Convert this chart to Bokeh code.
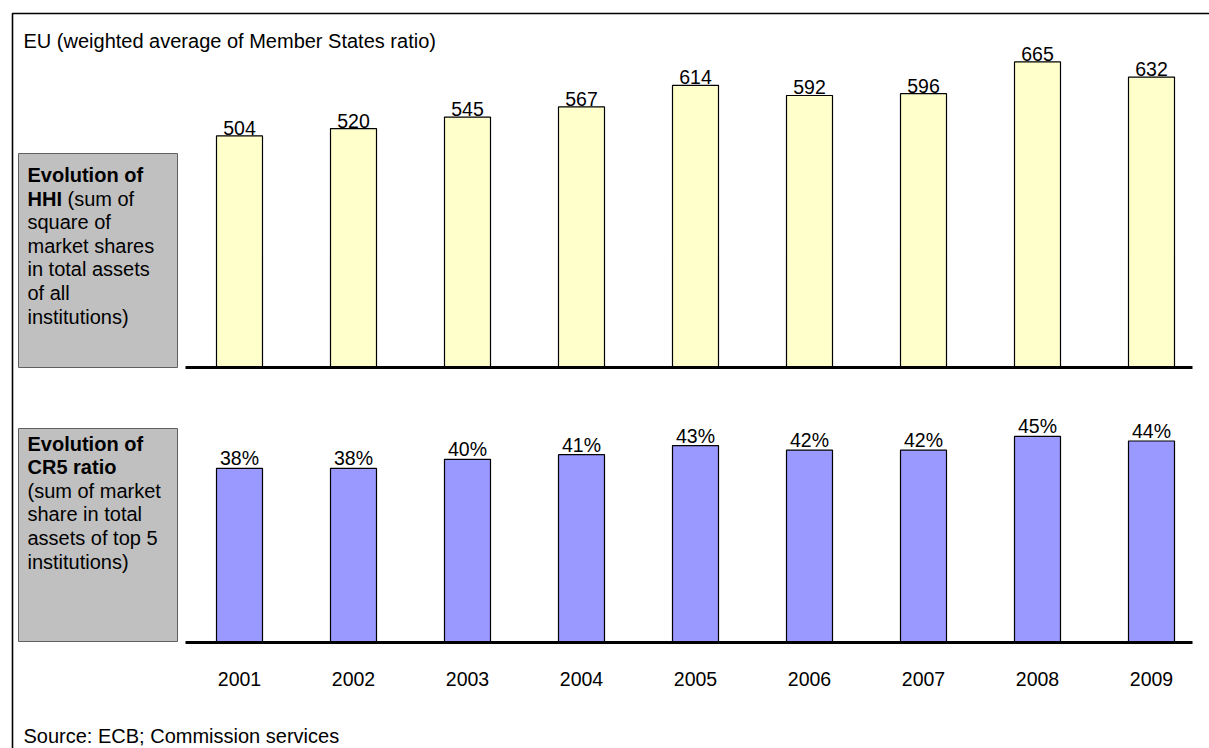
from bokeh.plotting import figure
from bokeh.models import Range1d
from bokeh.core.properties import value
from bokeh.embed import file_html
from bokeh.resources import INLINE

# ---- data ----
years = [2001, 2002, 2003, 2004, 2005, 2006, 2007, 2008, 2009]
year_labels = ["2001", "2002", "2003", "2004", "2005", "2006", "2007", "2008", "2009"]
hhi = [504, 520, 545, 567, 614, 592, 596, 665, 632]
hhi_labels = ["504", "520", "545", "567", "614", "592", "596", "665", "632"]
cr5 = [38, 38, 40, 41, 43, 42, 42, 45, 44]
cr5_labels = ["38%", "38%", "40%", "41%", "43%", "42%", "42%", "45%", "44%"]

title_text = "EU (weighted average of Member States ratio)"
source_text = "Source: ECB; Commission services"

# ---- layout (page pixel coordinates) ----
W, H = 1209, 748
OX, OY = 0, 0
FONT = value("Liberation Sans")
FS = "20px"
NFS = "19.5px"

first_center = 239.0   # page x of first bar centre
step = 114.0           # px per year
bar_w_px = 46.0
hhi_base, hhi_ppu = 367.0, 0.4595
cr5_base, cr5_ppu = 642.0, 4.58

x_start = years[0] - (first_center - OX) / step
x_range = Range1d(x_start, x_start + W / step)


def y_range_for(base_page_y, ppu):
    from_bottom = (OY + H) - base_page_y
    start = -from_bottom / ppu
    return Range1d(start, start + H / ppu)


p = figure(width=W, height=H, output_backend="svg", toolbar_location=None,
           x_range=x_range, y_range=y_range_for(hhi_base, hhi_ppu),
           x_axis_type=None, y_axis_type=None, min_border=0,
           outline_line_color=None, background_fill_color="white",
           border_fill_color="white")
p.extra_y_ranges = {"cr5": y_range_for(cr5_base, cr5_ppu),
                    "px": Range1d(OY + H, OY)}
p.extra_x_ranges = {"px": Range1d(OX, OX + W)}

PX = dict(x_range_name="px", y_range_name="px")

# outer frame (top and left edges visible)
p.line(x=[12, 12, 1220], y=[760, 13, 13], line_color="black", line_width=1.6, **PX)

# title & source
p.text(x=[23], y=[40], text=[title_text], text_font=FONT, text_font_size=FS,
       text_color="black", text_baseline="alphabetic", **PX)
p.text(x=[23], y=[735], text=[source_text], text_font=FONT, text_font_size=FS,
       text_color="black", text_baseline="alphabetic", **PX)

# grey side boxes
p.quad(left=[18, 18], right=[177, 177], top=[153, 428], bottom=[367, 641],
       fill_color="#C0C0C0", line_color="#606060", line_width=1, **PX)

LS = 23.6
# box 1 text
b1_lines = ["square of", "market shares", "in total assets", "of all", "institutions)"]
p.text(x=[27], y=[174.5], text=["Evolution of"], text_font=FONT, text_font_size=FS,
       text_font_style="bold", text_baseline="alphabetic", **PX)
p.text(x=[27], y=[174.5 + LS], text=["HHI"], text_font=FONT, text_font_size=FS,
       text_font_style="bold", text_baseline="alphabetic", **PX)
p.text(x=[67], y=[174.5 + LS], text=["(sum of"], text_font=FONT, text_font_size=FS,
       text_baseline="alphabetic", **PX)
p.text(x=[27] * len(b1_lines), y=[174.5 + LS * (i + 2) for i in range(len(b1_lines))],
       text=b1_lines, text_font=FONT, text_font_size=FS,
       text_baseline="alphabetic", **PX)

# box 2 text
p.text(x=[27, 27], y=[443, 443 + LS], text=["Evolution of", "CR5 ratio"], text_font=FONT,
       text_font_size=FS, text_font_style="bold", text_baseline="alphabetic", **PX)
b2_lines = ["(sum of market", "share in total", "assets of top 5", "institutions)"]
p.text(x=[27] * len(b2_lines), y=[443 + LS * (i + 2) for i in range(len(b2_lines))],
       text=b2_lines, text_font=FONT, text_font_size=FS,
       text_baseline="alphabetic", **PX)

# HHI bars
bw = bar_w_px / step
p.vbar(x=years, top=hhi, bottom=0, width=bw, fill_color="#FFFFCC",
       line_color="black", line_width=1.2)
p.text(x=years, y=hhi, text=hhi_labels, text_font=FONT, text_font_size=NFS,
       text_align="center", text_baseline="alphabetic", y_offset=-8)

# CR5 bars
p.vbar(x=years, top=cr5, bottom=0, width=bw, fill_color="#9999FF",
       line_color="black", line_width=1.2, y_range_name="cr5")
p.text(x=years, y=cr5, text=cr5_labels, text_font=FONT, text_font_size=NFS,
       text_align="center", text_baseline="alphabetic", y_offset=-10,
       y_range_name="cr5")

# base lines
p.segment(x0=[185, 185], x1=[1192, 1192], y0=[hhi_base, cr5_base], y1=[hhi_base, cr5_base],
          line_color="black", line_width=3, **PX)

# year labels
p.text(x=years, y=[-(678 - cr5_base) / cr5_ppu] * len(years), text=year_labels,
       text_font=FONT, text_font_size=NFS, text_align="center",
       text_baseline="alphabetic", y_range_name="cr5")

open("out.html", "w").write(file_html(p, INLINE))
